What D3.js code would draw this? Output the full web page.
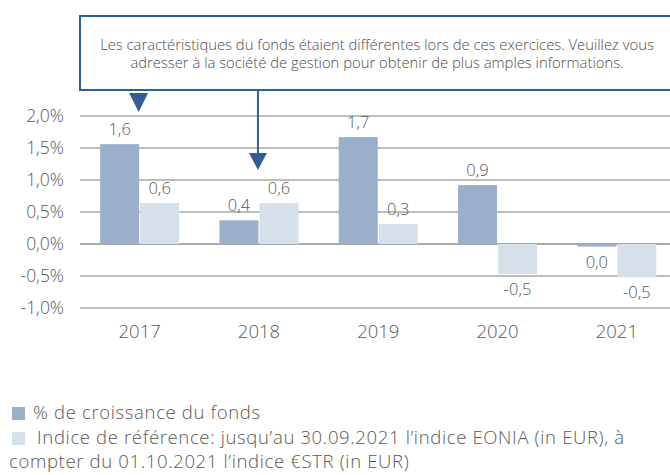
<!DOCTYPE html>
<html>
<head>
<meta charset="utf-8">
<script src="https://cdn.jsdelivr.net/npm/d3@7"></script>
<style>
  body { margin: 0; background: #fff; }
  svg { font-family: "Open Sans", Lato, sans-serif; font-weight: 300; }
</style>
</head>
<body>
<div id="chart"></div>
<script>
// data
var years = ["2017", "2018", "2019", "2020", "2021"];
var fund = [1.56, 0.37, 1.67, 0.92, -0.04];
var bench = [0.64, 0.64, 0.31, -0.47, -0.52];
var fundLabels = ["1,6", "0,4", "1,7", "0,9", "0,0"];
var benchLabels = ["0,6", "0,6", "0,3", "-0,5", "-0,5"];
var yTicks = [-1, -0.5, 0, 0.5, 1, 1.5, 2];
var seriesNames = ["% de croissance du fonds",
  "Indice de référence: jusqu’au 30.09.2021 l’indice EONIA (in EUR), à",
  "compter du 01.10.2021 l’indice €STR (in EUR)"];
var note = ["Les caractéristiques du fonds étaient différentes lors de ces exercices. Veuillez vous",
  "adresser à la société de gestion pour obtenir de plus amples informations."];

var width = 670, height = 475;
var colors = ["#9aafc9", "#d6e0eb"];
var textColor = "#595959";
var blue = "#2f5f94";
var font = "'Open Sans', Lato, sans-serif";

var svg = d3.select("#chart").append("svg")
  .attr("width", width).attr("height", height);

var x = d3.scaleBand().domain(years).range([80, 676.5]).padding(0);
var xs = d3.scaleBand().domain([0, 1]).range([0, 80]);
var y = d3.scaleLinear().domain([-1, 2]).range([308, 116]);

// gridlines
svg.append("g").selectAll("line")
  .data(yTicks).enter().append("line")
  .attr("x1", 80).attr("x2", width)
  .attr("y1", d => y(d)).attr("y2", d => y(d))
  .attr("stroke", d => d === 0 ? "#8c8c8c" : "#a6a6a6")
  .attr("stroke-width", 1.5);

// y axis labels
var yAxis = d3.axisLeft(y).tickValues(yTicks).tickSize(0).tickPadding(0)
  .tickFormat(d => d3.format(".1f")(d).replace(".", ",").replace("−", "-") + "%");
svg.append("g")
  .attr("transform", "translate(64,0)")
  .call(yAxis)
  .call(g => g.select(".domain").remove())
  .selectAll("text")
  .attr("font-size", "17.5px")
  .attr("font-family", font)
  .attr("fill", textColor);

// x axis labels
var xAxis = d3.axisBottom(x).tickSize(0).tickPadding(0);
svg.append("g")
  .attr("transform", "translate(0,325)")
  .call(xAxis)
  .call(g => g.select(".domain").remove())
  .selectAll("text")
  .attr("font-size", "18.5px")
  .attr("font-family", font)
  .attr("fill", textColor);

// bars
var rows = years.map((yr, i) => ({ year: yr, vals: [fund[i], bench[i]], labels: [fundLabels[i], benchLabels[i]] }));
var groups = svg.selectAll(".grp")
  .data(rows).enter().append("g")
  .attr("class", "grp")
  .attr("transform", d => "translate(" + (x(d.year) + x.bandwidth() / 2 - 40) + ",0)");

groups.selectAll("rect")
  .data(d => d.vals).enter().append("rect")
  .attr("x", (d, i) => xs(i) + 0.5)
  .attr("width", xs.bandwidth() - 1)
  .attr("y", d => y(Math.max(0, d)))
  .attr("height", d => Math.abs(y(d) - y(0)))
  .attr("fill", (d, i) => colors[i]);

groups.selectAll("text")
  .data(d => d.vals.map((v, i) => ({ v: v, i: i, label: d.labels[i] }))).enter().append("text")
  .attr("x", d => xs(d.i) + xs.bandwidth() / 2)
  .attr("y", d => d.v >= 0 ? y(d.v) - 9 : y(d.v) + 21)
  .attr("text-anchor", "middle")
  .attr("font-size", "16.5px")
  .attr("fill", textColor)
  .text(d => d.label);

// note box with arrows
svg.append("rect")
  .attr("x", 80).attr("y", 16)
  .attr("width", 600).attr("height", 74)
  .attr("fill", "#fff").attr("stroke", blue).attr("stroke-width", 2);

svg.selectAll(".note")
  .data(note).enter().append("text")
  .attr("x", 377).attr("y", (d, i) => 50 + i * 18)
  .attr("text-anchor", "middle")
  .attr("font-size", "14.8px")
  .attr("fill", "#4d4d4d")
  .text(d => d);

var a1 = x("2017") + x.bandwidth() / 2 - 1;
svg.append("path")
  .attr("d", "M" + (a1 - 9.5) + ",93 L" + (a1 + 9.5) + ",93 L" + a1 + ",112 Z")
  .attr("fill", blue);

var a2 = x("2018") + x.bandwidth() / 2 - 1;
svg.append("line")
  .attr("x1", a2).attr("x2", a2).attr("y1", 91).attr("y2", 155)
  .attr("stroke", blue).attr("stroke-width", 2);
svg.append("path")
  .attr("d", "M" + (a2 - 9) + ",153 L" + (a2 + 9) + ",153 L" + a2 + ",170 Z")
  .attr("fill", blue);

// legend
var legend = svg.append("g").attr("font-size", "18.5px").attr("letter-spacing", "0.65px").attr("fill", textColor);
legend.append("rect").attr("x", 12).attr("y", 407).attr("width", 13).attr("height", 13).attr("fill", colors[0]);
legend.append("text").attr("x", 33).attr("y", 419).text(seriesNames[0]);
legend.append("rect").attr("x", 12).attr("y", 432).attr("width", 13).attr("height", 13).attr("fill", colors[1]);
legend.append("text").attr("x", 37).attr("y", 444).text(seriesNames[1]);
legend.append("text").attr("x", 9).attr("y", 468).text(seriesNames[2]);
</script>
</body>
</html>
